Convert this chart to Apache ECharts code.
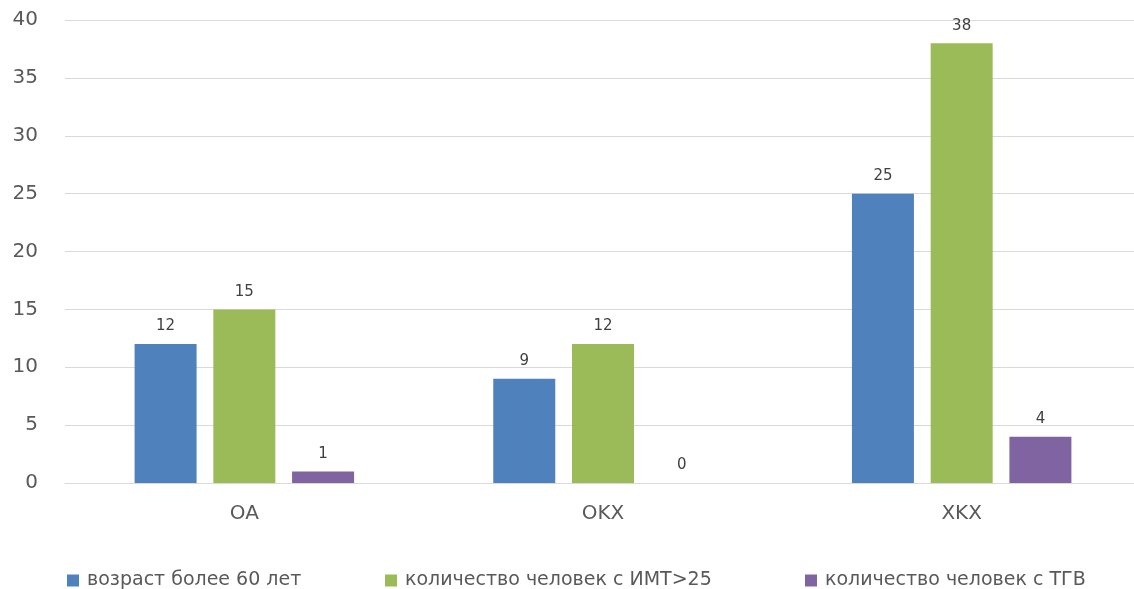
<!DOCTYPE html>
<html>
<head>
<meta charset="utf-8">
<script src="https://cdn.jsdelivr.net/npm/echarts@6/dist/echarts.min.js"></script>
<style>
  html, body { margin: 0; padding: 0; background: #ffffff; overflow: hidden; }
  #chart { width: 1141px; height: 589px; }
</style>
</head>
<body>
<div id="chart"></div>
<script>
// Groups along the x axis
const categories = ['OA', 'OKX', 'XKX'];

// Series names and counts per group
const seriesNames = [
  'возраст более 60 лет',
  'количество человек с ИМТ>25',
  'количество человек с ТГВ'
];
const ageOver60 = [12, 9, 25];
const bmiOver25 = [15, 12, 38];
const dvtCases = [1, 0, 4];

const colors = ['#4F81BD', '#9BBB59', '#8064A2'];

// Left edge of each legend entry
const legendLefts = [62, 380, 800];

const chart = echarts.init(document.getElementById('chart'));

const label = {
  show: true,
  position: 'top',
  distance: 10,
  color: '#404040',
  fontSize: 15,
  fontFamily: 'DejaVu Sans'
};

const legends = seriesNames.map((name, i) => ({
  left: legendLefts[i],
  top: 566,
  itemWidth: 12,
  itemHeight: 12,
  icon: 'rect',
  textStyle: {
    color: '#595959',
    fontSize: 19,
    fontFamily: 'DejaVu Sans',
    padding: [0, 0, 0, 3]
  },
  data: [name]
}));

chart.setOption({
  backgroundColor: '#ffffff',
  animation: false,
  color: colors,
  grid: { left: 65, right: -1, top: 20, bottom: 106, containLabel: false },
  legend: legends,
  xAxis: {
    type: 'category',
    data: categories,
    axisLine: { show: true, lineStyle: { color: '#d9d9d9' } },
    axisTick: { show: false },
    axisLabel: { color: '#595959', fontSize: 20, margin: 21, fontFamily: 'DejaVu Sans' }
  },
  yAxis: {
    type: 'value',
    min: 0,
    max: 40,
    interval: 5,
    axisLine: { show: false },
    axisTick: { show: false },
    axisLabel: { color: '#595959', fontSize: 20, margin: 27, fontFamily: 'DejaVu Sans' },
    splitLine: { lineStyle: { color: '#d9d9d9', width: 1 } }
  },
  series: [
    { name: seriesNames[0], type: 'bar', data: ageOver60, barWidth: 62, barGap: '27%', label },
    { name: seriesNames[1], type: 'bar', data: bmiOver25, barWidth: 62, barGap: '27%', label },
    { name: seriesNames[2], type: 'bar', data: dvtCases, barWidth: 62, barGap: '27%', label }
  ]
});
</script>
</body>
</html>
